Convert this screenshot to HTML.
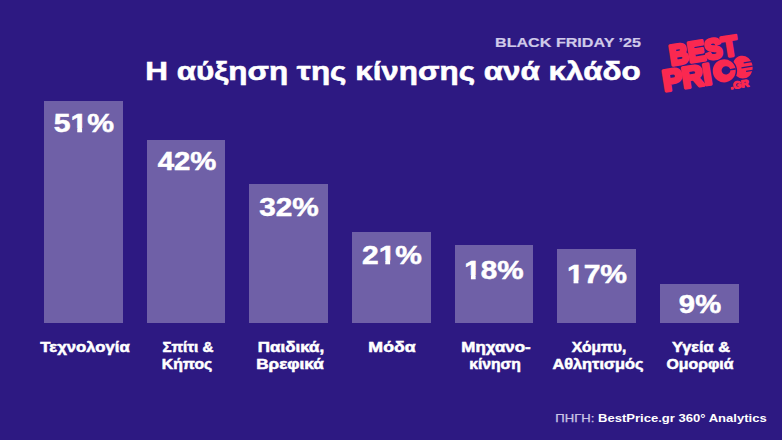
<!DOCTYPE html>
<html><head><meta charset="utf-8">
<style>
html,body{margin:0;padding:0;}
body{width:782px;height:440px;overflow:hidden;background:#2d1982;position:relative;font-family:"Liberation Sans",sans-serif;}
.bar{position:absolute;background:#6f60a7;width:78.7px;}
.t{position:absolute;width:0;height:0;}
.one{font-style:normal;display:inline-block;clip-path:polygon(-10% -10%,110% -10%,110% 0.69em,68.5% 0.69em,68.5% 1.2em,40% 1.2em,40% 0.69em,-10% 0.69em);}
.t>span{position:absolute;left:0;white-space:nowrap;line-height:1;}
</style></head><body>
<div class="bar" style="left:44.00px;top:101.00px;height:222.00px"></div>
<div class="bar" style="left:146.67px;top:140.00px;height:183.00px"></div>
<div class="bar" style="left:249.34px;top:184.00px;height:139.00px"></div>
<div class="bar" style="left:352.01px;top:231.60px;height:91.40px"></div>
<div class="bar" style="left:454.68px;top:244.70px;height:78.30px"></div>
<div class="bar" style="left:557.35px;top:248.70px;height:74.30px"></div>
<div class="bar" style="left:660.02px;top:284.00px;height:39.00px"></div>
<div class="t" style="left:392.80px;top:59.14px"><span style="font-size:25.00px;font-weight:bold;color:#ffffff;letter-spacing:0.00px;-webkit-text-stroke:0.55px #ffffff;transform:translateX(-50%) scaleX(1.2562)">Η αύξηση της κίνησης ανά κλάδο</span></div>
<div class="t" style="left:568.40px;top:36.49px"><span style="font-size:13.60px;font-weight:bold;color:#d0cae9;letter-spacing:0.00px;-webkit-text-stroke:0.20px #d0cae9;transform:translateX(-50%) scaleX(1.1857)">BLACK FRIDAY ’25</span></div>
<div class="t" style="left:84.05px;top:110.61px"><span style="font-size:25.50px;font-weight:bold;color:#ffffff;letter-spacing:0.00px;-webkit-text-stroke:0.50px #ffffff;transform:translateX(-50%) scaleX(1.1816)">5<i class="one">1</i>%</span></div>
<div class="t" style="left:186.90px;top:149.01px"><span style="font-size:25.50px;font-weight:bold;color:#ffffff;letter-spacing:0.00px;-webkit-text-stroke:0.50px #ffffff;transform:translateX(-50%) scaleX(1.1497)">42%</span></div>
<div class="t" style="left:288.80px;top:195.21px"><span style="font-size:25.50px;font-weight:bold;color:#ffffff;letter-spacing:0.00px;-webkit-text-stroke:0.50px #ffffff;transform:translateX(-50%) scaleX(1.1667)">32%</span></div>
<div class="t" style="left:392.15px;top:243.01px"><span style="font-size:25.50px;font-weight:bold;color:#ffffff;letter-spacing:0.00px;-webkit-text-stroke:0.50px #ffffff;transform:translateX(-50%) scaleX(1.1735)">2<i class="one">1</i>%</span></div>
<div class="t" style="left:494.00px;top:257.61px"><span style="font-size:25.50px;font-weight:bold;color:#ffffff;letter-spacing:0.00px;-webkit-text-stroke:0.50px #ffffff;transform:translateX(-50%) scaleX(1.1633)"><i class="one">1</i>8%</span></div>
<div class="t" style="left:596.60px;top:262.41px"><span style="font-size:25.50px;font-weight:bold;color:#ffffff;letter-spacing:0.00px;-webkit-text-stroke:0.50px #ffffff;transform:translateX(-50%) scaleX(1.1791)"><i class="one">1</i>7%</span></div>
<div class="t" style="left:699.65px;top:292.31px"><span style="font-size:25.50px;font-weight:bold;color:#ffffff;letter-spacing:0.00px;-webkit-text-stroke:0.50px #ffffff;transform:translateX(-50%) scaleX(1.1468)">9%</span></div>
<div class="t" style="left:85.10px;top:341.03px"><span style="font-size:13.90px;font-weight:bold;color:#ffffff;letter-spacing:0.00px;-webkit-text-stroke:0.50px #ffffff;transform:translateX(-50%) scaleX(1.2009)">Τεχνολογία</span></div>
<div class="t" style="left:188.05px;top:340.83px"><span style="font-size:13.90px;font-weight:bold;color:#ffffff;letter-spacing:0.00px;-webkit-text-stroke:0.50px #ffffff;transform:translateX(-50%) scaleX(1.0921)">Σπίτι &amp;</span></div>
<div class="t" style="left:186.50px;top:358.03px"><span style="font-size:13.90px;font-weight:bold;color:#ffffff;letter-spacing:0.00px;-webkit-text-stroke:0.50px #ffffff;transform:translateX(-50%) scaleX(1.1352)">Κήπος</span></div>
<div class="t" style="left:290.70px;top:340.83px"><span style="font-size:13.90px;font-weight:bold;color:#ffffff;letter-spacing:0.00px;-webkit-text-stroke:0.50px #ffffff;transform:translateX(-50%) scaleX(1.2201)">Παιδικά,</span></div>
<div class="t" style="left:290.00px;top:358.03px"><span style="font-size:13.90px;font-weight:bold;color:#ffffff;letter-spacing:0.00px;-webkit-text-stroke:0.50px #ffffff;transform:translateX(-50%) scaleX(1.2332)">Βρεφικά</span></div>
<div class="t" style="left:392.25px;top:340.83px"><span style="font-size:13.90px;font-weight:bold;color:#ffffff;letter-spacing:0.00px;-webkit-text-stroke:0.50px #ffffff;transform:translateX(-50%) scaleX(1.2762)">Μόδα</span></div>
<div class="t" style="left:495.60px;top:340.83px"><span style="font-size:13.90px;font-weight:bold;color:#ffffff;letter-spacing:0.00px;-webkit-text-stroke:0.50px #ffffff;transform:translateX(-50%) scaleX(1.2183)">Μηχανο-</span></div>
<div class="t" style="left:495.00px;top:358.03px"><span style="font-size:13.90px;font-weight:bold;color:#ffffff;letter-spacing:0.00px;-webkit-text-stroke:0.50px #ffffff;transform:translateX(-50%) scaleX(1.1289)">κίνηση</span></div>
<div class="t" style="left:598.65px;top:340.83px"><span style="font-size:13.90px;font-weight:bold;color:#ffffff;letter-spacing:0.00px;-webkit-text-stroke:0.50px #ffffff;transform:translateX(-50%) scaleX(1.1164)">Χόμπυ,</span></div>
<div class="t" style="left:597.80px;top:358.03px"><span style="font-size:13.90px;font-weight:bold;color:#ffffff;letter-spacing:0.00px;-webkit-text-stroke:0.50px #ffffff;transform:translateX(-50%) scaleX(1.1766)">Αθλητισμός</span></div>
<div class="t" style="left:701.10px;top:340.83px"><span style="font-size:13.90px;font-weight:bold;color:#ffffff;letter-spacing:0.00px;-webkit-text-stroke:0.50px #ffffff;transform:translateX(-50%) scaleX(1.1723)">Υγεία &amp;</span></div>
<div class="t" style="left:700.20px;top:358.03px"><span style="font-size:13.90px;font-weight:bold;color:#ffffff;letter-spacing:0.00px;-webkit-text-stroke:0.50px #ffffff;transform:translateX(-50%) scaleX(1.1405)">Ομορφιά</span></div>
<div class="t" style="left:660.95px;top:413.26px"><span style="font-size:10.80px;font-weight:bold;color:#ffffff;letter-spacing:0.00px;-webkit-text-stroke:0.00px #ffffff;transform:translateX(-50%) scaleX(1.2089)"><span style="font-weight:normal;color:#cbc5e6;-webkit-text-stroke:0.25px #cbc5e6">ΠΗΓΗ:</span> BestPrice.gr 360° Analytics</span></div>
<svg style="position:absolute;left:0;top:0" width="782" height="440" viewBox="0 0 782 440">
<g transform="translate(667,45) rotate(-9)">
<ellipse cx="71.2" cy="33.6" rx="10.2" ry="11.4" fill="#fa2850"/>
<g stroke="#2d1982" stroke-width="1.3">
<line x1="73" y1="29.6" x2="84" y2="29.6"/>
<line x1="70" y1="34.2" x2="84" y2="34.2"/>
<line x1="74" y1="38.5" x2="84" y2="38.5"/>
</g>
<circle cx="52.5" cy="34.5" r="12.9" fill="#2d1982"/>
<g fill="#fa2850" stroke="#fa2850" stroke-width="3.4" stroke-linejoin="round" font-family="Liberation Sans" font-weight="bold">
<text x="0.8" y="20.6" font-size="28" textLength="68.5" lengthAdjust="spacingAndGlyphs">BEST</text>
<text x="-10" y="45.3" font-size="29.5" textLength="49" lengthAdjust="spacingAndGlyphs">PRI</text>
<text x="56" y="53.8" font-size="10" stroke-width="1.2" textLength="19" lengthAdjust="spacingAndGlyphs">.GR</text>
</g>
<circle cx="52.5" cy="34.5" r="11.5" fill="#fa2850"/>
<ellipse cx="54.3" cy="34.3" rx="4.4" ry="4.1" fill="#2d1982"/>
<path d="M55 33.7 L64 33.3 L64 35.3 L55 34.9Z" fill="#2d1982"/>
</g>
</svg>

</body></html>
